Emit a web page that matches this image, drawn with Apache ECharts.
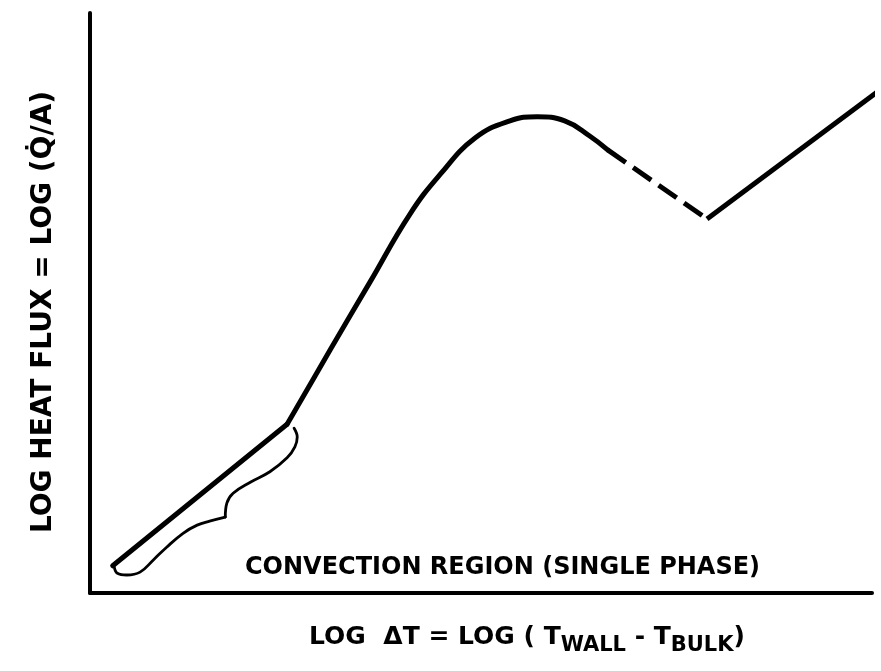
<!DOCTYPE html>
<html>
<head>
<meta charset="utf-8">
<script src="https://cdn.jsdelivr.net/npm/echarts@6/dist/echarts.min.js"></script>
<style>html,body{margin:0;padding:0;background:#fff}#c{width:881px;height:671px}</style>
</head>
<body>
<div id="c"></div>
<script>
// Boiling curve (arbitrary log units, 0-100 on both axes; no ticks in the original)
const convectionX = [2.9, 25.2];
const convectionY = [4.7, 29.1];
const nucleateX = [25.2, 26.5, 30.7, 35.8, 40.9, 44.8, 49.2, 53.7, 57.2, 60.7, 63.9, 66.2];
const nucleateY = [29.1, 32.1, 41.9, 53.6, 65.3, 72.2, 78.4, 81.4, 82.1, 81.4, 78.8, 76.4];
const transitionX = [66.2, 78.9];
const transitionY = [76.4, 64.5];
const filmX = [78.9, 101.2];
const filmY = [64.5, 86.9];
// Brace marking the convection region
const braceUpperX = [26.1, 26.5, 26.2, 25.2, 23.0, 20.5, 18.3, 17.5, 17.3];
const braceUpperY = [28.4, 26.9, 25.2, 23.3, 20.9, 19.1, 17.2, 15.5, 13.1];
const braceLowerX = [17.3, 15.3, 13.7, 11.9, 9.8, 8.1, 6.4, 4.7, 3.5, 3.1];
const braceLowerY = [13.1, 12.4, 11.7, 10.3, 7.9, 5.7, 3.6, 3.1, 3.4, 4.5];

const xAxisTitle = '{m|LOG  \u0394T = LOG ( T}{s|WALL}{m| - T}{s|BULK}{m|)}';
const yAxisTitle = 'LOG HEAT FLUX = LOG (Q\u0307/A)';
const regionLabel = 'CONVECTION REGION (SINGLE PHASE)';

const zip = (xs, ys) => xs.map((x, i) => [x, ys[i]]);
const FONT = 'DejaVu Sans';
const black = {color: '#000', width: 5, cap: 'round', join: 'round'};

const chart = echarts.init(document.getElementById('c'), null, {renderer: 'canvas'});
chart.setOption({
  animation: false,
  backgroundColor: '#fff',
  grid: {left: 90, right: 9, top: 13, bottom: 78},
  xAxis: {
    type: 'value', min: 0, max: 100,
    axisLine: {show: true, lineStyle: {color: '#000', width: 4}},
    axisTick: {show: false}, axisLabel: {show: false}, splitLine: {show: false},
    name: xAxisTitle, nameLocation: 'middle', nameGap: 26,
    nameTextStyle: {
      padding: [0, 0, 0, 92],
      rich: {
        m: {fontFamily: FONT, fontWeight: 'bold', fontSize: 25, color: '#000'},
        s: {fontFamily: FONT, fontWeight: 'bold', fontSize: 21, color: '#000', padding: [16, 0, 0, 0]}
      }
    }
  },
  yAxis: {
    type: 'value', min: 0, max: 100,
    axisLine: {show: true, lineStyle: {color: '#000', width: 4}},
    axisTick: {show: false}, axisLabel: {show: false}, splitLine: {show: false},
    name: yAxisTitle, nameLocation: 'middle', nameGap: 32,
    nameTextStyle: {fontFamily: FONT, fontWeight: 'bold', fontSize: 28, color: '#000', padding: [0, 18, 0, 0]}
  },
  series: [
    {type: 'line', data: zip(convectionX, convectionY), showSymbol: false, clip: false, lineStyle: black},
    {type: 'line', data: zip(nucleateX, nucleateY), smooth: 0.45, showSymbol: false, clip: false, lineStyle: black},
    {type: 'line', data: zip(transitionX, transitionY), showSymbol: false, clip: false,
     lineStyle: {color: '#000', width: 5, type: [22, 9]}},
    {type: 'line', data: zip(filmX, filmY), showSymbol: false, clip: false,
     lineStyle: {color: '#000', width: 5, join: 'miter'}},
    {type: 'line', data: zip(braceUpperX, braceUpperY), smooth: 0.4, showSymbol: false, clip: false,
     lineStyle: {color: '#000', width: 2.8, cap: 'round'}},
    {type: 'line', data: zip(braceLowerX, braceLowerY), smooth: 0.4, showSymbol: false, clip: false,
     lineStyle: {color: '#000', width: 2.8, cap: 'round'}}
  ],
  graphic: [
    {type: 'text', left: 245, top: 556,
     style: {text: regionLabel, fontFamily: FONT, fontWeight: 'bold', fontSize: 24, fill: '#000'}}
  ]
});
</script>
</body>
</html>
